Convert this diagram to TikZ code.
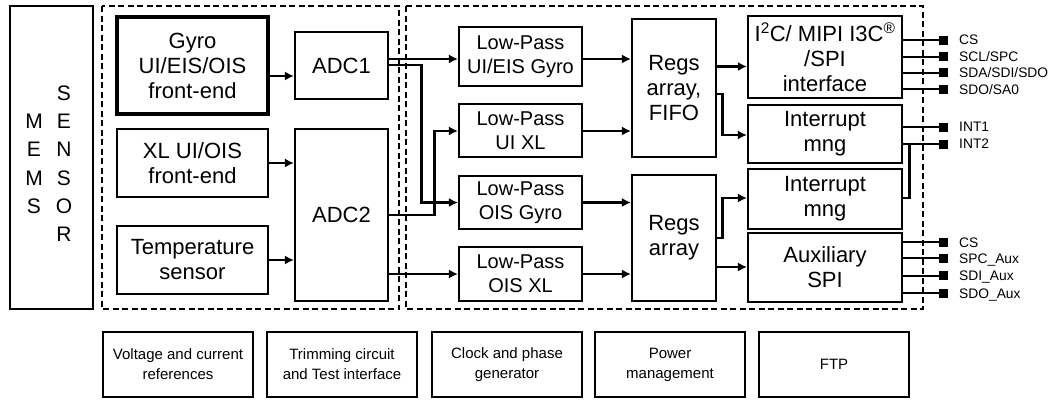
\documentclass[tikz,border=0pt]{standalone}
\usepackage{fontspec}
\setmainfont{Liberation Sans}
\usetikzlibrary{arrows.meta}
\newcommand\FMain{\fontsize{22}{25}\selectfont}
\newcommand\FLp{\fontsize{20}{24}\selectfont}
\newcommand\FMems{\fontsize{21}{24}\selectfont}
\newcommand\FPin{\fontsize{13.8}{16}\selectfont}
\newcommand\FBot{\fontsize{15}{20}\selectfont}
\begin{document}
\begin{tikzpicture}[x=1pt,y=-1pt,
 blk/.style={draw, line width=2.1pt, inner sep=0pt, align=center, font=\FMain},
 thickblk/.style={blk, line width=3.4pt},
 lpblk/.style={blk, font=\FLp, minimum width=123pt},
 rblk/.style={blk, minimum width=154pt},
 botblk/.style={draw, line width=1.6pt, inner sep=0pt, align=center, font=\FBot, minimum width=150pt, minimum height=65pt},
 dashbox/.style={draw, line width=2pt, dash pattern=on 6pt off 3.5pt},
 conn/.style={line width=2.2pt},
 arr/.style={conn, -{Latex[length=9pt,width=9pt]}},
 pinsq/.style={fill, minimum size=9pt, inner sep=0pt},
 pinlbl/.style={anchor=west, font=\FPin, inner sep=0pt, text height=9.9pt, text depth=0pt},
 letter/.style={font=\FMems, inner sep=0pt, text height=15pt, text depth=0pt}]

\useasboundingbox (0,0) rectangle (1057,399);

% MEMS sensor
\node[blk, minimum width=83pt, minimum height=303pt] (mems) at (51.5,157.5) {};
\node[letter] (l1) at (34,121.2) {M};
\node[letter] (l2) at (34,149.4) {E};
\node[letter] (l3) at (34,177.6) {M};
\node[letter] (l4) at (34,205.8) {S};
\node[letter] (r1) at (64,93) {S};
\node[letter] (r2) at (64,121.2) {E};
\node[letter] (r3) at (64,149.4) {N};
\node[letter] (r4) at (64,177.6) {S};
\node[letter] (r5) at (64,205.8) {O};
\node[letter] (r6) at (64,234) {R};

% dashed regions
\draw[dashbox] (102,6) rectangle (399,309);
\draw[dashbox] (406,6) rectangle (923,309);

% front-ends and ADCs
\node[thickblk, minimum width=151pt, minimum height=97pt] (gyro) at (192.5,65.5) {Gyro\\UI/EIS/OIS\\front-end};
\node[blk, minimum width=151pt, minimum height=68pt] (xl) at (192.5,163) {XL UI/OIS\\front-end};
\node[blk, minimum width=151pt, minimum height=68pt] (temp) at (192.5,260) {Temperature\\sensor};
\node[blk, minimum width=93pt, minimum height=67pt] (adc1) at (341.5,65.5) {ADC1};
\node[blk, minimum width=93pt, minimum height=172pt] (adc2) at (341.5,215) {ADC2};

% low-pass filters
\node[lpblk, minimum height=59pt] (lp1) at (520.5,56.5) {Low-Pass\\UI/EIS Gyro};
\node[lpblk, minimum height=53pt] (lp2) at (520.5,130.5) {Low-Pass\\UI XL};
\node[lpblk, minimum height=53pt] (lp3) at (520.5,202.5) {Low-Pass\\OIS Gyro};
\node[lpblk, minimum height=54pt] (lp4) at (520.5,274) {Low-Pass\\OIS XL};

% registers
\node[blk, minimum width=84pt, minimum height=138pt] (regs1) at (674,88) {Regs\\array,\\FIFO};
\node[blk, minimum width=84pt, minimum height=126pt] (regs2) at (674,238) {Regs\\array};

% right column
\node[rblk, minimum height=82pt] (i2c) at (825,57) {I\textsuperscript{2}C/ MIPI I3C\textsuperscript{®}\\/SPI\\interface};
\node[rblk, minimum height=58pt] (int1) at (825,134) {Interrupt\\mng};
\node[rblk, minimum height=60pt] (int2) at (825,199) {Interrupt\\mng};
\node[rblk, minimum height=69pt] (aux) at (825,267.5) {Auxiliary\\SPI};

% bottom blocks
\node[botblk] (b1) at (178,364.5) {Voltage and current\\references};
\node[botblk] (b2) at (342,364.5) {Trimming circuit\\and Test interface};
\node[botblk] (b3) at (507,364.5) {Clock and phase\\generator};
\node[botblk] (b4) at (670,364.5) {Power\\management};
\node[botblk] (b5) at (834,364.5) {FTP};

% pins
\node[pinsq] (pcs) at (943.5,40) {};    \node[pinlbl] (tcs) at (959,40) {CS};
\node[pinsq] (pscl) at (943.5,56.7) {}; \node[pinlbl] (tscl) at (959,56.7) {SCL/SPC};
\node[pinsq] (psda) at (943.5,72.7) {}; \node[pinlbl] (tsda) at (959,72.7) {SDA/SDI/SDO};
\node[pinsq] (psdo) at (943.5,89.3) {}; \node[pinlbl] (tsdo) at (959,89.3) {SDO/SA0};
\node[pinsq] (pint1) at (943.5,127) {}; \node[pinlbl] (tint1) at (959,127) {INT1};
\node[pinsq] (pint2) at (943.5,144) {}; \node[pinlbl] (tint2) at (959,144) {INT2};
\node[pinsq] (pacs) at (943.5,242.3) {}; \node[pinlbl] (tacs) at (959,242.3) {CS};
\node[pinsq] (pspc) at (943.5,258.3) {}; \node[pinlbl] (tspc) at (959,258.3) {SPC\_Aux};
\node[pinsq] (psdi) at (943.5,275.7) {}; \node[pinlbl] (tsdi) at (959,275.7) {SDI\_Aux};
\node[pinsq] (psdoa) at (943.5,293.3) {}; \node[pinlbl] (tsdoa) at (959,293.3) {SDO\_Aux};

% routing levels
\coordinate (Y59) at (0,59);
\coordinate (Y65) at (0,65);
\coordinate (Y66) at (0,66.5);
\coordinate (Y76) at (0,76);
\coordinate (Y94) at (0,94);
\coordinate (Y131) at (0,131);
\coordinate (Y135) at (0,135);
\coordinate (Y198) at (0,198);
\coordinate (Y202) at (0,202.5);
\coordinate (Y215) at (0,215);
\coordinate (Y238) at (0,238);
\coordinate (Y267) at (0,267);
\coordinate (Y274) at (0,274);
\coordinate (X421) at (421.5,0);
\coordinate (X434) at (434.5,0);
\coordinate (X722) at (722.5,0);
\coordinate (X909) at (909.5,0);

% connectors
\draw[arr] (gyro.east |- Y76) -- (adc1.west |- Y76);
\draw[arr] (xl.east) -- (xl.east -| adc2.west);
\draw[arr] (temp.east) -- (temp.east -| adc2.west);
\draw[arr] (adc1.east |- Y59) -- (lp1.west |- Y59);
\draw[arr] (adc1.east |- Y65) -- (X421 |- Y65) -- (X421 |- Y202) -- (lp3.west |- Y202);
\draw[arr] (adc2.east |- Y215) -- (X434 |- Y215) -- (X434 |- Y131) -- (lp2.west |- Y131);
\draw[arr] (adc2.east |- Y274) -- (lp4.west |- Y274);
\draw[arr] (lp1.east |- Y59) -- (regs1.west |- Y59);
\draw[arr] (lp2.east |- Y131) -- (regs1.west |- Y131);
\draw[arr] (lp3.east |- Y202) -- (regs2.west |- Y202);
\draw[arr] (lp4.east |- Y274) -- (regs2.west |- Y274);
\draw[arr] (regs1.east |- Y66) -- (i2c.west |- Y66);
\draw[arr] (regs1.east |- Y94) -- (X722 |- Y94) -- (X722 |- Y135) -- (int1.west |- Y135);
\draw[arr] (regs2.east |- Y238) -- (X722 |- Y238) -- (X722 |- Y198) -- (int2.west |- Y198);
\draw[arr] (regs2.east |- Y267) -- (aux.west |- Y267);

\draw[conn] (i2c.east |- pcs) -- (pcs);
\draw[conn] (i2c.east |- pscl) -- (pscl);
\draw[conn] (i2c.east |- psda) -- (psda);
\draw[conn] (i2c.east |- psdo) -- (psdo);
\draw[conn] (int1.east |- pint1) -- (pint1);
\draw[conn] (int1.east |- pint2) -- (pint2);
\draw[conn] (int2.east |- Y198) -- (X909 |- Y198) -- (X909 |- pint2);
\draw[conn] (aux.east |- pacs) -- (pacs);
\draw[conn] (aux.east |- pspc) -- (pspc);
\draw[conn] (aux.east |- psdi) -- (psdi);
\draw[conn] (aux.east |- psdoa) -- (psdoa);
\end{tikzpicture}
\end{document}
